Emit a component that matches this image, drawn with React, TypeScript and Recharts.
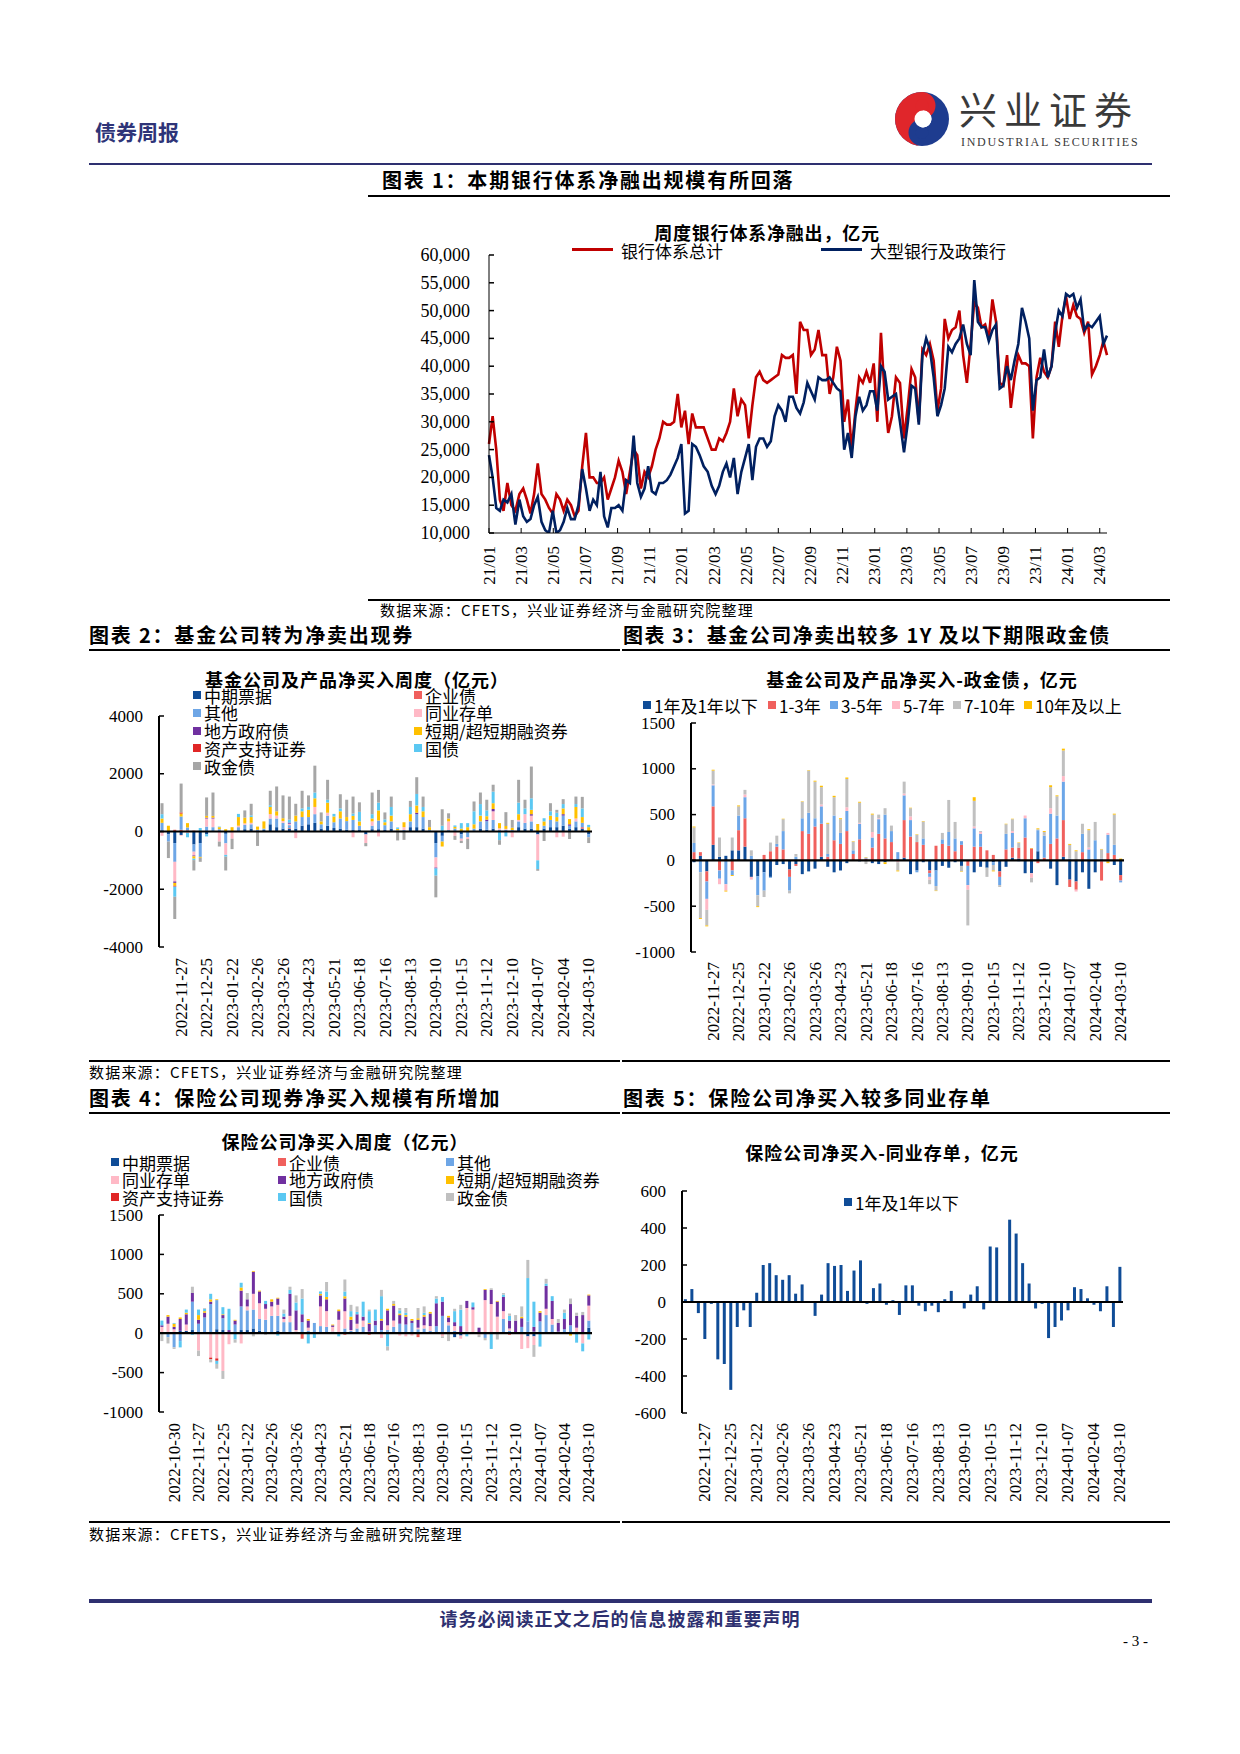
import React from 'react';
import { LineChart, Line, BarChart, Bar, XAxis, YAxis, ReferenceLine } from 'recharts';

const FONT_CN = '"Noto Sans CJK SC", "Noto Sans", sans-serif';
const FONT_NUM = '"Liberation Serif", "Times New Roman", serif';

// ---------------- Chart 1: weekly bank system net lending (亿元) ----------------
const bankStart = '2021-01-01';
const bankTickLabels = ['21/01','21/03','21/05','21/07','21/09','21/11','22/01','22/03','22/05','22/07','22/09','22/11','23/01','23/03','23/05','23/07','23/09','23/11','24/01','24/03'];
const bankTicksY = [10000,15000,20000,25000,30000,35000,40000,45000,50000,55000,60000];
const bankTotal = [
26000,31000,25000,16000,14000,19000,15000,14000,17000,18000,
16000,13500,17000,22500,17000,16000,14500,13500,17000,16000,
14000,16000,15000,13000,14000,22000,28000,20000,20000,19000,
19000,20000,16000,18000,20000,23000,21000,17000,21000,25000,
24000,18000,21000,20000,22000,25000,27000,30000,29500,29500,
30000,35000,29000,32000,26000,31500,29000,29000,29000,27000,
25000,25000,27000,26500,28000,30000,36000,31000,34000,33000,
27000,33000,38000,39000,37500,37000,37500,38000,38500,42000,
41500,41500,42000,35000,48000,46500,46500,42000,43000,46500,
42000,42000,35000,38000,43500,41000,30000,34000,25000,32000,
38000,37000,39000,37000,40500,30000,46000,35000,28000,31000,
38000,37000,27000,33000,39500,38000,30000,43000,42000,44000,
41000,32000,36000,48500,45000,46500,47000,50000,42000,37000,
44000,51500,50500,47000,47500,45000,52000,48000,37000,36500,
42000,32500,38000,42000,40500,40500,40000,27000,38000,41500,
39000,38000,40000,48000,43500,49000,52500,48500,51000,49000,
48500,46000,48000,38500,40000,42000,44500,42000];
const bankLarge = [
24000,20000,14500,14000,16000,15500,17000,11500,16000,13000,
12000,12500,15000,16500,12000,10500,10000,14000,10000,10500,
12000,14500,12500,12500,15000,21500,18000,14000,16000,15000,
21000,13000,11000,14500,14500,15000,14000,19500,19000,27500,
19000,16500,18000,22000,17500,17000,19000,19000,19500,20500,
22000,23500,26000,13500,14000,26000,25500,24000,22000,21000,
18500,17000,18500,21000,22500,20000,23500,17000,21000,23500,
26000,19500,25500,27000,27000,25500,26500,31000,33000,32000,
30000,34500,34500,32500,31500,33500,37000,35500,34000,38000,
37500,37500,38000,37000,36000,35500,25000,28000,23500,31000,
34500,32000,33000,35500,35500,32000,40000,39000,34000,34500,
35000,30000,24500,30000,36500,36000,29500,42000,45000,43000,
38000,31000,33000,36000,43500,42500,44000,45000,47500,44000,
42000,55500,48000,47000,47000,44500,46500,47500,36000,36500,
40000,37500,41000,44000,50500,48000,45000,32000,37500,38000,
43000,38000,40000,46000,50000,49000,53000,52500,53000,50500,
52000,46500,47500,47000,48000,49000,44000,45500];

// ---------------- Weekly categories ----------------
const fundDates = [
'2022-11-06','2022-11-13','2022-11-20','2022-11-27','2022-12-04','2022-12-11','2022-12-18','2022-12-25','2023-01-01','2023-01-08',
'2023-01-15','2023-01-22','2023-02-05','2023-02-12','2023-02-19','2023-02-26','2023-03-05','2023-03-12','2023-03-19','2023-03-26',
'2023-04-02','2023-04-09','2023-04-16','2023-04-23','2023-04-30','2023-05-07','2023-05-14','2023-05-21','2023-05-28','2023-06-04',
'2023-06-11','2023-06-18','2023-06-25','2023-07-02','2023-07-09','2023-07-16','2023-07-23','2023-07-30','2023-08-06','2023-08-13',
'2023-08-20','2023-08-27','2023-09-03','2023-09-10','2023-09-17','2023-09-24','2023-10-08','2023-10-15','2023-10-22','2023-10-29',
'2023-11-05','2023-11-12','2023-11-19','2023-11-26','2023-12-03','2023-12-10','2023-12-17','2023-12-24','2023-12-31','2024-01-07',
'2024-01-14','2024-01-21','2024-01-28','2024-02-04','2024-02-18','2024-02-25','2024-03-03','2024-03-10'];
const insExtraDates = ['2022-10-16','2022-10-23','2022-10-30'];

// ---------------- Chart 2: fund net purchase by type ----------------
const fundMtn = [0,-100,-400,-120,0,-450,-400,-100,0,0, -80,0,0,80,100,0,50,250,150,100, 100,100,200,250,300,100,200,120,100,60, 50,50,-100,80,80,50,100,0,0,150, 150,100,0,-400,-150,0,0,-100,0,0, 100,60,100,0,0,0,150,100,100,-100, 100,150,150,200,100,150,100,-100];
const fundCorp = [0,0,60,60,40,30,0,0,0,0, 0,0,0,0,0,0,0,0,0,0, 20,0,0,0,0,0,0,0,0,0, 0,0,0,0,0,0,0,0,0,0, 0,0,0,0,0,0,0,0,0,0, 0,0,0,0,0,0,0,0,0,0, 0,0,0,0,0,0,50,0];
const fundOther = [300,-250,-650,460,100,-250,-480,170,150,80, -330,0,150,150,150,60,50,200,300,200, 100,250,300,250,300,150,350,200,350,300, 350,150,0,120,300,170,250,40,50,200, 450,400,50,-500,-200,50,100,-150,-200,100, 250,300,300,60,60,50,200,200,250,0, 100,250,200,350,100,200,150,-100];
const fundNcd = [-150,0,-680,-30,-50,-130,0,280,300,-350, -400,-250,50,50,50,0,0,150,100,60, 50,-230,0,0,250,0,100,0,0,0, -200,0,-300,150,-170,0,0,0,100,0, 0,0,0,-350,0,300,-150,-70,-60,0, 0,0,300,50,30,-200,50,300,200,-900, 0,0,-200,-180,0,100,0,0];
const fundLocal = [0,0,-50,0,0,-30,0,30,30,0, 0,0,0,0,0,0,0,0,0,0, 40,0,0,0,0,0,0,0,0,0, 0,0,0,0,0,0,0,0,0,0, 50,0,0,-30,0,0,0,0,0,0, 0,50,80,0,0,0,0,0,50,0, 0,0,0,50,50,0,0,0];
const fundCp = [150,200,-100,100,150,-80,-30,60,60,70, 80,150,300,200,200,110,250,250,150,100, 0,200,200,250,300,100,350,200,250,140, 140,150,0,100,350,100,200,50,170,250, 250,200,100,0,-170,100,60,100,150,150, 200,120,200,180,100,80,200,0,150,260, 150,150,150,200,180,400,200,150];
const fundAbs = [0,0,-30,40,0,0,0,0,0,0, 0,0,0,0,0,0,0,0,0,0, 0,0,0,0,0,0,0,0,0,0, 0,0,0,0,0,0,0,0,0,0, 0,0,0,0,0,0,0,0,0,0, 0,0,0,0,0,0,0,0,0,0, 0,0,0,0,0,0,0,0];
const fundGov = [150,0,-350,0,-150,-50,120,-70,0,20, -60,0,110,0,60,0,0,60,0,0, 100,0,100,100,200,0,100,90,100,0, 80,330,0,150,270,100,300,50,0,250, 400,150,0,-250,200,0,50,190,140,450, 400,200,400,-300,-170,0,400,200,400,-300, 110,150,150,150,0,100,300,80];
const fundPolicy = [380,-570,-770,1000,0,-360,-140,640,810,-170, -480,-360,0,250,400,-500,0,500,860,790, 800,410,610,400,930,310,690,0,490,600, 590,330,-110,750,440,240,360,-310,-290,210, 580,360,250,-750,570,180,-140,-80,-350,340, 400,370,240,-160,480,270,790,300,1100,-60, -330,280,100,170,-260,260,400,-200];
const fundTicksY = [-4000,-2000,0,2000,4000];

// ---------------- Chart 3: fund net purchase of policy bank bonds by tenor ----------------
const pbUnder1 = [-20,50,-120,170,40,50,110,110,150,-180, -175,-130,-180,-50,-40,-100,-40,-150,-120,-90, 40,-70,-130,-110,-30,0,-10,0,-30,-40, -20,0,0,30,-150,-110,-20,-110,-110,-60, -80,-20,-60,0,-130,-70,-80,-20,-120,-70, 30,20,-140,-140,100,0,-90,-270,40,-210, -230,-130,-310,-130,-10,-10,-50,-160];
const pb1to3 = [90,40,-110,420,-110,0,-110,220,310,0, 0,60,100,150,120,-80,-20,320,290,370, 360,40,220,180,320,70,230,20,140,290, 240,200,0,410,260,200,170,-30,160,180, 160,100,170,-60,150,150,110,60,-60,120, 110,120,250,130,-30,30,180,240,400,-80, -90,90,0,0,-210,80,60,-60];
const pb3to5 = [100,-130,-190,230,-90,-260,-50,160,230,50, -205,-200,-10,30,200,-150,40,140,230,90, 190,30,270,120,220,40,170,10,110,160, 260,120,90,270,180,-20,70,-40,-170,50, 150,140,40,-210,200,140,0,-30,-90,170, 160,-10,210,0,230,240,330,250,420,20, 0,200,120,220,20,200,110,-20];
const pb5to7 = [0,0,-120,10,-60,-70,0,0,30,-30, 0,0,0,0,0,0,0,0,0,0, 20,0,0,0,40,0,10,0,60,10, 0,0,-20,20,40,0,0,-30,0,0, 0,0,0,-50,20,20,0,0,0,0, 20,0,30,-50,0,0,60,0,60,0, -20,0,20,0,0,20,0,0];
const pb7to10 = [170,-500,-170,150,210,0,140,100,50,60, -120,-70,95,90,130,-30,30,180,460,400, 190,330,200,150,310,95,220,-40,190,40, 70,60,-90,130,90,80,185,-50,-50,70, 350,180,-60,-390,280,10,-100,-60,-20,105, 130,50,0,-50,10,40,230,210,280,150, 100,110,190,200,100,0,330,0];
const pbOver10 = [10,-10,-10,10,0,-10,-10,10,0,0, -10,0,0,0,5,0,0,5,5,10, 15,10,15,10,15,5,10,5,10,0, -20,0,-10,0,5,5,5,0,-5,0, 0,0,-5,0,40,0,0,-10,0,5, 5,5,0,5,10,10,20,10,20,10, 10,0,10,0,5,-20,10,20];
const pbTicksY = [-1000,-500,0,500,1000,1500];

// ---------------- Chart 4: insurance net purchase by type ----------------
const insMtn = [0,0,0,30,30,40,0,0,0,50, 40,10,20,40,40,60,30,0,0,30, 20,10,0,0,0,10,0,0,0,0, 0,0,0,0,10,0,0,20,0,0, 0,0,0,0,0,0,0,0,-50,-30, 0,0,0,0,0,0,0,0,0,0, -40,-40,0,0,0,0,0,0,0,0,70];
const insCorp = [0,0,0,0,0,0,0,0,0,0, 0,0,0,0,0,0,0,0,0,0, 0,0,0,-70,0,0,0,0,0,0, -20,0,0,0,-20,0,0,0,0,0, 0,0,-50,0,0,0,0,0,0,0, 0,0,0,0,0,0,0,-20,0,0, 0,0,0,0,0,0,0,0,0,0,0];
const insOther = [0,-50,-180,-100,0,360,120,200,370,370, 150,0,90,300,250,240,150,170,220,190, 120,130,20,140,30,120,90,80,20,0, 60,30,60,80,10,100,40,20,80,120, 110,130,50,60,30,90,220,100,30,0, 20,0,0,-60,0,10,180,30,10,80, 150,20,150,230,110,20,50,100,0,0,90];
const insNcd = [80,120,50,0,80,0,-220,0,-310,-320, -480,-140,0,-130,50,200,200,140,120,140, 40,80,20,0,40,0,250,200,60,170, 220,10,60,80,0,0,-60,60,80,-30, -40,-30,20,40,60,0,-40,40,60,-40, 300,300,-20,420,370,200,100,30,0,-200, -150,-110,0,80,70,0,0,0,70,-130,190];
const insLocal = [20,90,30,150,130,110,50,60,30,0, 40,30,50,200,90,280,150,60,60,80, 30,280,250,100,90,0,140,150,20,110, 160,130,120,50,100,60,120,190,190,110, 100,30,100,110,160,290,180,60,50,90, 90,30,70,130,180,190,180,100,150,110, 0,60,110,290,230,110,130,270,150,230,130];
const insCp = [0,20,40,20,20,0,60,20,30,10, 10,0,10,40,0,10,10,0,30,10, 0,0,0,0,20,0,20,30,10,20, 30,40,0,0,10,0,20,20,20,20, 20,20,20,20,20,0,0,20,0,0, 0,0,0,10,0,10,0,0,0,20, 0,0,20,0,0,0,-10,-30,0,0,10];
const insAbs = [0,0,0,0,0,0,0,0,-20,-30, 0,0,0,0,0,0,0,0,0,0, 0,0,0,0,0,0,0,0,0,0, 0,0,0,0,0,0,0,0,0,0, 0,0,0,0,0,0,0,0,0,0, 0,0,0,0,0,0,0,0,0,0, 0,0,0,0,0,0,0,0,0,0,0];
const insGov = [60,0,10,-80,40,-20,70,30,70,-40, 90,270,-80,60,0,0,0,40,0,-30, 40,50,100,200,-130,-60,30,70,0,-40, 60,70,30,190,150,140,290,-170,0,40, 30,0,0,30,0,60,60,0,140,210, -40,60,0,0,-200,0,30,60,0,0, 550,320,-170,30,60,0,80,0,-120,-100,-80];
const insPolicy = [-100,-80,-20,0,0,80,-70,10,-40,-60, -100,0,-40,0,80,-40,0,-20,0,0, 50,40,90,120,0,0,0,120,0,0, 150,80,70,0,20,0,80,-50,40,30, 60,0,130,80,0,30,-20,-100,30,60, 0,0,-30,-30,20,-80,20,30,70,130, 230,-150,0,60,0,50,40,70,40,40,0];
const insTicksY = [-1000,-500,0,500,1000,1500];

// ---------------- Chart 5: insurance net purchase of NCDs ----------------
const insNcdUnder1 = [15,70,-60,-200,-10,-310,-335,-475,-135,-45, -135,50,200,210,145,120,145,45,95,0, -75,40,210,195,200,60,170,225,-10,75, 100,-15,10,-70,90,90,-20,-50,-20,-55, 15,60,0,-35,40,85,-40,300,295,-5, 445,370,210,100,-35,-10,-195,-135,-100,-45, 80,70,20,-15,-50,85,-135,190];
const ncdTicksY = [-600,-400,-200,0,200,400,600];

// ---------------- Series configs ----------------
const typeSeries = [
  { key: 'mtn', name: '中期票据', color: '#0F4C97' },
  { key: 'corp', name: '企业债', color: '#F0605D' },
  { key: 'other', name: '其他', color: '#6EA6E6' },
  { key: 'ncd', name: '同业存单', color: '#FFB9C6' },
  { key: 'local', name: '地方政府债', color: '#7030A0' },
  { key: 'cp', name: '短期/超短期融资券', color: '#FFC000' },
  { key: 'abs', name: '资产支持证券', color: '#E02626' },
  { key: 'gov', name: '国债', color: '#5BC8F2' },
  { key: 'policy', name: '政金债', color: '#A6A6A6' },
];
const insPolicyColor = '#C0C0C0';
const tenorSeries = [
  { key: 'a', name: '1年及1年以下', color: '#0F4C97' },
  { key: 'b', name: '1-3年', color: '#F0605D' },
  { key: 'c', name: '3-5年', color: '#6CA6E8' },
  { key: 'd', name: '5-7年', color: '#FFB9C6' },
  { key: 'e', name: '7-10年', color: '#C0C0C0' },
  { key: 'f', name: '10年及以上', color: '#FFC000' },
];

function monthOffset(d: Date) {
  const y = d.getUTCFullYear(), m = d.getUTCMonth(), day = d.getUTCDate();
  const dim = new Date(Date.UTC(y, m + 1, 0)).getUTCDate();
  return (y - 2021) * 12 + m + (day - 1) / dim;
}
const bankData = bankTotal.map((v, i) => {
  const d = new Date(bankStart + 'T00:00:00Z');
  d.setUTCDate(d.getUTCDate() + i * 7);
  return { x: monthOffset(d), total: v, large: bankLarge[i] };
});
const fundData = fundDates.map((d, i) => ({ date: d, mtn: fundMtn[i], corp: fundCorp[i], other: fundOther[i], ncd: fundNcd[i], local: fundLocal[i], cp: fundCp[i], abs: fundAbs[i], gov: fundGov[i], policy: fundPolicy[i] }));
const pbData = fundDates.map((d, i) => ({ date: d, a: pbUnder1[i], b: pb1to3[i], c: pb3to5[i], d: pb5to7[i], e: pb7to10[i], f: pbOver10[i] }));
const insDates = [...insExtraDates, ...fundDates];
const insData = insDates.map((d, i) => ({ date: d, mtn: insMtn[i], corp: insCorp[i], other: insOther[i], ncd: insNcd[i], local: insLocal[i], cp: insCp[i], abs: insAbs[i], gov: insGov[i], policy: insPolicy[i] }));
const ncdData = fundDates.map((d, i) => ({ date: d, v: insNcdUnder1[i] }));

// ---------------- Helpers ----------------
type TProps = { x: number; y: number; size: number; bold?: boolean; color?: string; align?: 'left' | 'center' | 'right'; family?: string; spacing?: number; lh?: number; children: React.ReactNode };
function T({ x, y, size, bold, color = '#000', align = 'left', family = FONT_CN, spacing = 0, lh = 1.1, children }: TProps) {
  const w = 800;
  const left = align === 'left' ? x : align === 'center' ? x - w / 2 : x - w;
  return (
    <div style={{ position: 'absolute', left, top: y - (size * lh) / 2, width: w, height: size * lh, lineHeight: `${size * lh}px`, fontSize: size, fontWeight: bold ? 700 : 400, color, textAlign: align, fontFamily: family, letterSpacing: spacing, whiteSpace: 'nowrap' }}>
      {children}
    </div>
  );
}
function HLine({ x1, x2, y, w = 1.3, color = '#000' }: { x1: number; x2: number; y: number; w?: number; color?: string }) {
  return <div style={{ position: 'absolute', left: x1, top: y - w / 2, width: x2 - x1, height: w, background: color }} />;
}
function LegendItem({ x, y, color, label, size = 17 }: { x: number; y: number; color: string; label: string; size?: number }) {
  return (
    <>
      <div style={{ position: 'absolute', left: x, top: y - 4, width: 8, height: 8, background: color }} />
      <T x={x + 11} y={y} size={size} lh={1}>{label}</T>
    </>
  );
}

const YTickIn = (props: any) => {
  const { x, y, payload, gap, fmt, fs = 17, len = 5 } = props;
  const ax = x + gap;
  return (
    <g>
      <line x1={ax} x2={ax + len} y1={y} y2={y} stroke="#000" strokeWidth={1.5} />
      <text x={x} y={y} textAnchor="end" dominantBaseline="central" fontFamily={FONT_NUM} fontSize={fs} fill="#000">{fmt ? fmt(payload.value) : payload.value}</text>
    </g>
  );
};
const DateTick = (props: any) => {
  const { x, y, payload, index, offset } = props;
  if (index < offset || (index - offset) % 4 !== 0) return <g />;
  return (
    <text x={x} y={y} transform={`rotate(-90 ${x} ${y})`} textAnchor="end" dominantBaseline="central" fontFamily={FONT_NUM} fontSize={17} fill="#000">{payload.value}</text>
  );
};
const MonthTick = (props: any) => {
  const { x, y, payload, gap } = props;
  const label = bankTickLabels[Math.round(payload.value / 2)];
  const ay = y - gap;
  return (
    <g>
      <line x1={x} x2={x} y1={ay} y2={ay - 5} stroke="#000" strokeWidth={1} />
      <text x={x} y={y} transform={`rotate(-90 ${x} ${y})`} textAnchor="end" dominantBaseline="central" fontFamily={FONT_NUM} fontSize={17} fill="#000">{label}</text>
    </g>
  );
};

function Logo() {
  return (
    <svg width={56} height={56} viewBox="0 0 56 56" style={{ position: 'absolute', left: 894, top: 91 }}>
      <circle cx={28} cy={28} r={27} fill="#1E3C8F" />
      <path d="M28 1 A27 27 0 0 0 28 55 A13.5 13.5 0 0 1 28 28 A13.5 13.5 0 0 0 28 1 Z" fill="#E0262B" />
      <circle cx={28} cy={41.5} r={6.5} fill="#1E3C8F" />
      <circle cx={28} cy={14.5} r={6.5} fill="#E0262B" />
      <circle cx={29} cy={28} r={8.5} fill="#fff" />
      <path d="M29 19.5 A8.5 8.5 0 0 1 29 36.5 A4 4 0 0 1 29 28.5 Z" fill="#fff" />
    </svg>
  );
}

function BankChart() {
  const W = 740, H = 360;
  return (
    <div style={{ position: 'absolute', left: 380, top: 240 }}>
      <LineChart width={W} height={H} data={bankData} margin={{ top: 15, right: 13, bottom: 7, left: 9 }}>
        <XAxis dataKey="x" type="number" domain={[0, 'dataMax']} ticks={bankTickLabels.map((_, i) => i * 2)} interval={0} height={60} tickSize={0} tickMargin={13} axisLine={{ stroke: '#000', strokeWidth: 1 }} tickLine={false} tick={<MonthTick gap={13} />} />
        <YAxis type="number" domain={[10000, 60000]} ticks={bankTicksY} interval={0} width={100} tickSize={0} tickMargin={19} allowDataOverflow axisLine={{ stroke: '#000', strokeWidth: 1 }} tickLine={false} tick={<YTickIn gap={19} fs={18} len={5} fmt={(v: number) => v.toLocaleString('en-US')} />} />
        <Line type="linear" dataKey="total" stroke="#C00000" strokeWidth={2.6} dot={false} isAnimationActive={false} />
        <Line type="linear" dataKey="large" stroke="#002060" strokeWidth={2.6} dot={false} isAnimationActive={false} />
      </LineChart>
    </div>
  );
}

function StackChart({ left, top, width, height, data, series, ticks, margin, yWidth, xHeight, tickGap, offset, gapPct, colorOverride }: any) {
  const lo = ticks[0], hi = ticks[ticks.length - 1];
  return (
    <div style={{ position: 'absolute', left, top }}>
      <BarChart width={width} height={height} data={data} margin={margin} stackOffset="sign" barCategoryGap={gapPct}>
        <XAxis dataKey="date" type="category" interval={0} height={xHeight} tickSize={0} tickMargin={tickGap} axisLine={false} tickLine={false} tick={<DateTick offset={offset} />} />
        <YAxis type="number" domain={[lo, hi]} ticks={ticks} interval={0} width={yWidth} tickSize={0} tickMargin={16} allowDataOverflow axisLine={{ stroke: '#000', strokeWidth: 2 }} tickLine={false} tick={<YTickIn gap={16} fs={17} len={5} />} />
        {series.map((s: any) => (
          <Bar key={s.key} dataKey={s.key} stackId="a" fill={(colorOverride && colorOverride[s.key]) || s.color} isAnimationActive={false} />
        ))}
        <ReferenceLine y={0} stroke="#000" strokeWidth={2.2} />
      </BarChart>
    </div>
  );
}

const sourceText = '数据来源：CFETS，兴业证券经济与金融研究院整理';

export default function App() {
  return (
    <div style={{ position: 'absolute', left: 0, top: 0, width: 1240, height: 1754, background: '#fff', fontFamily: FONT_CN, overflow: 'hidden' }}>
      {/* Header */}
      <T x={95} y={132} size={21} bold color="#2E3478">债券周报</T>
      <Logo />
      <T x={959} y={108} size={38} color="#3A3A3A" spacing={7} lh={0.9}>兴业证券</T>
      <T x={961} y={142} size={12} color="#3A3A3A" family={FONT_NUM} spacing={1.7} lh={1}>INDUSTRIAL SECURITIES</T>
      <HLine x1={89} x2={1152} y={164} w={1.5} color="#2E3070" />

      {/* Figure 1 */}
      <T x={382} y={180} size={20} bold spacing={1.8}>图表 1：本期银行体系净融出规模有所回落</T>
      <HLine x1={368} x2={1170} y={196} w={1.5} />
      <T x={767} y={232} size={18} bold spacing={0.8} align="center" lh={1}>周度银行体系净融出，亿元</T>
      <div style={{ position: 'absolute', left: 572, top: 248, width: 41, height: 3, background: '#C00000' }} />
      <T x={621} y={250} size={17} lh={1}>银行体系总计</T>
      <div style={{ position: 'absolute', left: 821, top: 248, width: 41, height: 3, background: '#002060' }} />
      <T x={870} y={250} size={17} lh={1}>大型银行及政策行</T>
      <BankChart />
      <HLine x1={368} x2={1170} y={600} w={1.3} />
      <T x={380} y={609} size={15} spacing={1.2} lh={1}>{sourceText}</T>

      {/* Figure 2 & 3 headers */}
      <T x={89} y={635} size={20} bold spacing={1.8}>图表 2：基金公司转为净卖出现券</T>
      <T x={623} y={635} size={20} bold spacing={1.5}>图表 3：基金公司净卖出较多 1Y 及以下期限政金债</T>
      <HLine x1={89} x2={620} y={650} />
      <HLine x1={622} x2={1170} y={650} />

      {/* Figure 2 */}
      <T x={357} y={679} size={18} bold spacing={1} align="center" lh={1}>基金公司及产品净买入周度（亿元）</T>
      {typeSeries.map((s, i) => (
        <LegendItem key={s.key} x={i % 2 === 0 ? 193 : 414} y={695 + Math.floor(i / 2) * 17.8} color={s.color} label={s.name} />
      ))}
      <StackChart left={89} top={700} width={520} height={360} data={fundData} series={typeSeries} ticks={fundTicksY}
        margin={{ top: 16, right: 17, bottom: 33, left: 10 }} yWidth={60} xHeight={80} tickGap={11} offset={3} gapPct="24%" />

      {/* Figure 3 */}
      <T x={922} y={679} size={18} bold spacing={1} align="center" lh={1}>基金公司及产品净买入-政金债，亿元</T>
      {tenorSeries.map((s, i) => (
        <LegendItem key={s.key} x={[643, 768, 830, 892, 953, 1024][i]} y={705} color={s.color} label={s.name} />
      ))}
      <StackChart left={620} top={705} width={520} height={360} data={pbData} series={tenorSeries} ticks={pbTicksY}
        margin={{ top: 18, right: 16, bottom: 23, left: 11 }} yWidth={60} xHeight={90} tickGap={10} offset={3} gapPct="24%" />

      <HLine x1={89} x2={620} y={1061} />
      <HLine x1={622} x2={1170} y={1061} />
      <T x={89} y={1071} size={15} spacing={1.2} lh={1}>{sourceText}</T>

      {/* Figure 4 & 5 headers */}
      <T x={89} y={1098} size={20} bold spacing={1.8}>图表 4：保险公司现券净买入规模有所增加</T>
      <T x={623} y={1098} size={20} bold spacing={1.8}>图表 5：保险公司净买入较多同业存单</T>
      <HLine x1={89} x2={620} y={1113} />
      <HLine x1={622} x2={1170} y={1113} />

      {/* Figure 4 */}
      <T x={345} y={1141} size={18} bold spacing={1} align="center" lh={1}>保险公司净买入周度（亿元）</T>
      {typeSeries.map((s, i) => (
        <LegendItem key={s.key} x={[111, 278, 446][i % 3]} y={1162 + Math.floor(i / 3) * 17.5} color={s.key === 'policy' ? insPolicyColor : s.color} label={s.name} />
      ))}
      <StackChart left={89} top={1200} width={520} height={320} data={insData} series={typeSeries} ticks={insTicksY}
        margin={{ top: 15, right: 17, bottom: 18, left: 10 }} yWidth={60} xHeight={90} tickGap={11} offset={2} gapPct="23%" colorOverride={{ policy: insPolicyColor }} />

      {/* Figure 5 */}
      <T x={882} y={1152} size={18} bold spacing={1} align="center" lh={1}>保险公司净买入-同业存单，亿元</T>
      <LegendItem x={844} y={1202} color="#0F4C97" label="1年及1年以下" />
      <StackChart left={620} top={1175} width={520} height={340} data={ncdData} series={[{ key: 'v', name: '1年及1年以下', color: '#0F4C97' }]} ticks={ncdTicksY}
        margin={{ top: 16, right: 17, bottom: 12, left: 12 }} yWidth={50} xHeight={90} tickGap={10} offset={3} gapPct="29%" />

      <HLine x1={89} x2={620} y={1522} />
      <HLine x1={622} x2={1170} y={1522} />
      <T x={89} y={1533} size={15} spacing={1.2} lh={1}>{sourceText}</T>

      {/* Footer */}
      <HLine x1={89} x2={1152} y={1601} w={3.5} color="#2E3070" />
      <T x={620} y={1619} size={18} bold spacing={1} align="center" color="#2E3070">请务必阅读正文之后的信息披露和重要声明</T>
      <T x={1148} y={1641} size={15} align="right" family={FONT_NUM}>- 3 -</T>
    </div>
  );
}
